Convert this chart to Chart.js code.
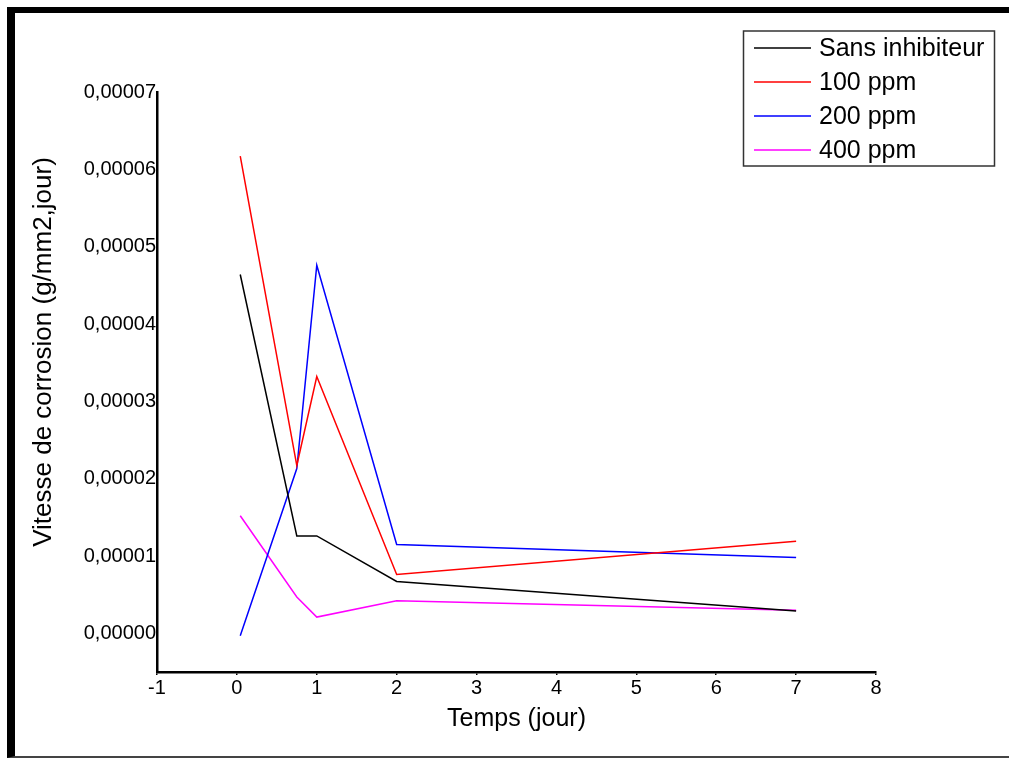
<!DOCTYPE html>
<html>
<head>
<meta charset="utf-8">
<title>Vitesse de corrosion</title>
<script src="https://cdn.jsdelivr.net/npm/chart.js@4/dist/chart.umd.min.js"></script>
<style>
	body { margin: 0; background: #fff; }
	#frame {
		position: absolute; left: 7px; top: 7px; width: 1002px; height: 751px;
		box-sizing: border-box;
		border-top: 6px solid #000; border-left: 8px solid #000; border-bottom: 2px solid #444;
	}
	#chart { position: absolute; left: 0; top: 0; }
</style>
</head>
<body>
<div id="frame"></div>
<canvas id="chart" width="1009" height="760"></canvas>
<script>
// time in days (1 h, 18 h, 24 h, 48 h, 168 h)
var days = [0.042, 0.75, 1, 2, 7];

// corrosion rate, g/mm2.jour
var sansInhibiteur = [0.0000464, 0.0000126, 0.0000126, 0.0000067, 0.0000029];
var ppm100 = [0.0000617, 0.0000217, 0.0000332, 0.0000076, 0.0000119];
var ppm200 = [-0.0000003, 0.0000213, 0.0000476, 0.0000115, 0.0000098];
var ppm400 = [0.0000152, 0.0000047, 0.0000021, 0.0000042, 0.0000030];

var seriesNames = ['Sans inhibiteur', '100 ppm', '200 ppm', '400 ppm'];
var seriesColors = ['#000000', '#ff0000', '#0000ff', '#ff00ff'];

var xTicks = [-1, 0, 1, 2, 3, 4, 5, 6, 7, 8];
var yTicks = [0, 0.00001, 0.00002, 0.00003, 0.00004, 0.00005, 0.00006, 0.00007];

var yTitle = 'Vitesse de corrosion (g/mm2,jour)';
var FONT = '"Liberation Sans", Arial, sans-serif';

function toPoints(values){
	return values.map(function(v, i){ return {x: days[i], y: v}; });
}

var datasets = [sansInhibiteur, ppm100, ppm200, ppm400].map(function(vals, i){
	return {
		label: seriesNames[i],
		data: toPoints(vals),
		borderColor: seriesColors[i],
		backgroundColor: seriesColors[i],
		borderWidth: 1.5,
		pointRadius: 0,
		tension: 0,
		fill: false
	};
});

// boxed legend at the top right, outside the plot
var boxLegend = {
	id: 'boxLegend',
	afterDraw: function(chart){
		var ctx = chart.ctx;
		ctx.save();
		ctx.strokeStyle = '#333';
		ctx.lineWidth = 1.5;
		ctx.strokeRect(743.5, 31, 251, 135);
		ctx.font = '25px ' + FONT;
		ctx.textBaseline = 'middle';
		ctx.textAlign = 'left';
		chart.data.datasets.forEach(function(ds, i){
			var y = 48 + i * 34;
			ctx.strokeStyle = ds.borderColor;
			ctx.lineWidth = 1.5;
			ctx.beginPath();
			ctx.moveTo(754, y);
			ctx.lineTo(811, y);
			ctx.stroke();
			ctx.fillStyle = '#000';
			ctx.fillText(ds.label, 819, y + 1);
		});
		ctx.restore();
	}
};

// y axis title, sitting a bit above the middle of the axis
var yAxisTitle = {
	id: 'yAxisTitle',
	afterDraw: function(chart){
		var ctx = chart.ctx;
		ctx.save();
		ctx.translate(44, 352);
		ctx.rotate(-Math.PI / 2);
		ctx.font = '26px ' + FONT;
		ctx.fillStyle = '#000';
		ctx.textAlign = 'center';
		ctx.textBaseline = 'middle';
		ctx.fillText(yTitle, 0, 0);
		ctx.restore();
	}
};

var ctx = document.getElementById('chart').getContext('2d');
var myChart = new Chart(ctx, {
	type: 'line',
	data: { datasets: datasets },
	plugins: [boxLegend, yAxisTitle],
	options: {
		responsive: false,
		animation: false,
		layout: { padding: { left: 0, top: 92, right: 133, bottom: 0 } },
		plugins: {
			legend: { display: false },
			tooltip: { enabled: false }
		},
		scales: {
			x: {
				type: 'linear',
				min: -1,
				max: 8,
				afterBuildTicks: function(scale){
					scale.ticks = xTicks.map(function(v){ return {value: v}; });
				},
				afterFit: function(scale){ scale.height = 88; },
				grid: { drawOnChartArea: false, drawTicks: true, tickLength: 3, color: '#000', lineWidth: 1.5 },
				border: { color: '#000', width: 2.5 },
				ticks: {
					color: '#000',
					padding: 1,
					maxRotation: 0,
					autoSkip: false,
					font: { family: FONT, size: 20 }
				},
				title: {
					display: true,
					text: 'Temps (jour)',
					color: '#000',
					padding: { top: 0, bottom: 26 },
					font: { family: FONT, size: 25 }
				}
			},
			y: {
				type: 'linear',
				min: -0.000005,
				max: 0.00007,
				afterBuildTicks: function(scale){
					scale.ticks = yTicks.map(function(v){ return {value: v}; });
				},
				afterFit: function(scale){ scale.width = 157; },
				grid: { drawOnChartArea: false, drawTicks: false },
				border: { color: '#000', width: 2.5 },
				ticks: {
					color: '#000',
					padding: 1,
					autoSkip: false,
					font: { family: FONT, size: 20 },
					callback: function(value){
						return value.toFixed(5).replace('.', ',');
					}
				}
			}
		}
	}
});
</script>
</body>
</html>
